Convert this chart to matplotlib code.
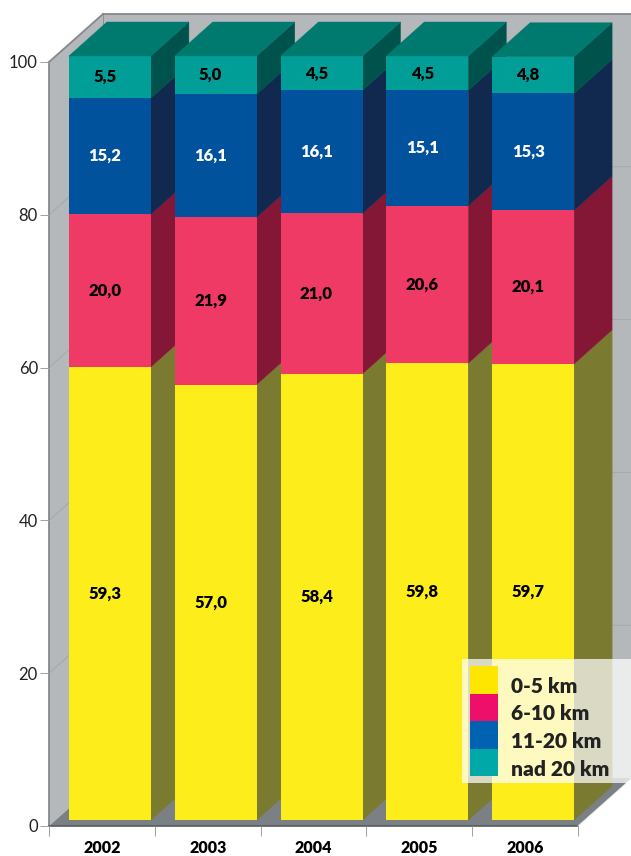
#!/usr/bin/env python3
"""Stacked pseudo-3D bars, commuting distance shares 2002-2006."""

import matplotlib
matplotlib.use('Agg')
import matplotlib.pyplot as plt
from matplotlib.patches import Polygon, Rectangle
import numpy as np

plt.rcParams['font.family'] = ['Lato', 'DejaVu Sans']

years = ['2002', '2003', '2004', '2005', '2006']
km_0_5 = [59.3, 57.0, 58.4, 59.8, 59.7]
km_6_10 = [20.0, 21.9, 21.0, 20.6, 20.1]
km_11_20 = [15.2, 16.1, 16.1, 15.1, 15.3]
km_over_20 = [5.5, 5.0, 4.5, 4.5, 4.8]
legend_labels = ['0-5 km', '6-10 km', '11-20 km', 'nad 20 km']

series = [km_0_5, km_6_10, km_11_20, km_over_20]
front_cols = ['#fdee1b', '#f03a66', '#00529c', '#009e96']
side_cols = ['#7a7a30', '#851736', '#12294f', '#00524c']
label_cols = ['black', 'black', 'white', 'black']
top_col = '#007a6e'
legend_cols = ['#ffe600', '#ee0f6a', '#0062b0', '#00a9a8']

W, H = 631, 856
fig = plt.figure(figsize=(W / 100, H / 100), dpi=100)

# axes box is the front plane of the chart
ax = fig.add_axes([49 / W, 1 - 826 / H, 529 / W, 764 / H])
ax.set_xlim(-0.5, 4.5)
ax.set_ylim(0, 100)
ax.patch.set_visible(False)
px_x = 5 / 529
px_y = 100 / 764

# ── Walls and floor ──
wall_dx, wall_dy = 54 * px_x, 48 * px_y
wall_col = '#b5b8bb'
x0, x1 = -0.5, 4.5
ax.add_patch(Polygon([(x0, 0), (x0 + wall_dx, wall_dy), (x0 + wall_dx, 100 + wall_dy), (x0, 100)],
                     fc=wall_col, ec='none', clip_on=False, zorder=0))
ax.add_patch(Polygon([(x0 + wall_dx, wall_dy), (x1 + wall_dx, wall_dy), (x1 + wall_dx, 100 + wall_dy),
                      (x0 + wall_dx, 100 + wall_dy)], fc=wall_col, ec='none', clip_on=False, zorder=0))
ax.add_patch(Polygon([(x0, 0), (x1, 0), (x1 + wall_dx, wall_dy), (x0 + wall_dx, wall_dy)],
                     fc='#7a8083', ec='none', clip_on=False, zorder=0))

# grid lines on the walls
for v in [20, 40, 60, 80]:
    ax.plot([x0, x0 + wall_dx, x1 + wall_dx], [v, v + wall_dy, v + wall_dy],
            color='#a3a6a9', lw=0.6, clip_on=False, zorder=0.5)

# darker outline edges
edge = '#85898c'
ax.plot([x0 + wall_dx, x1 + wall_dx], [100 + wall_dy] * 2, color=edge, lw=1.3, clip_on=False, zorder=0.5)
ax.plot([x0, x0 + wall_dx], [100, 100 + wall_dy], color=edge, lw=1.3, clip_on=False, zorder=0.5)
ax.plot([x0 + wall_dx] * 2, [wall_dy, 100 + wall_dy], color=edge, lw=0.6, clip_on=False, zorder=0.5)
ax.plot([x0, x0], [0, 100], color=edge, lw=1.3, clip_on=False, zorder=0.5)
ax.plot([x0, x1], [0, 0], color='#565b5d', lw=1.2, clip_on=False, zorder=0.5)
ax.plot([x1, x1 + wall_dx], [0, wall_dy], color='#e8e8e8', lw=0.6, clip_on=False, zorder=0.5)

# ── Bars, drawn left to right so the next bar covers the side face ──
bar_w = 82 * px_x
bar_shift = 8 * px_x
base = 6 * px_y
dep_x, dep_y = 38 * px_x, 34 * px_y
text_shift = -5 * px_x

for i, year in enumerate(years):
    xl = i + bar_shift - bar_w / 2
    xr = xl + bar_w
    bottom = base
    for vals, fc, sc, tc in zip(series, front_cols, side_cols, label_cols):
        top = bottom + vals[i]
        ax.add_patch(Polygon([(xr, bottom), (xr + dep_x, bottom + dep_y), (xr + dep_x, top + dep_y), (xr, top)],
                             fc=sc, ec=sc, lw=0.3, clip_on=False))
        ax.add_patch(Rectangle((xl, bottom), bar_w, vals[i], fc=fc, ec='none', clip_on=False))
        ax.text(i + bar_shift + text_shift, (bottom + top) / 2, f'{vals[i]:.1f}'.replace('.', ','),
                ha='center', va='center', fontsize=12, fontweight='heavy', color=tc, zorder=5)
        bottom = top
    ax.add_patch(Polygon([(xl, bottom), (xr, bottom), (xr + dep_x, bottom + dep_y), (xl + dep_x, bottom + dep_y)],
                         fc=top_col, ec=top_col, lw=0.3, clip_on=False))

# ── Axes furniture ──
for sp in ax.spines.values():
    sp.set_visible(False)
ax.set_yticks(np.arange(0, 101, 20))
ax.tick_params(axis='y', length=6.5, width=0.7, color='#a0a0a0', labelsize=12, pad=1.5, labelcolor='#222222')
ax.set_xticks(np.arange(-0.5, 5, 1))
ax.set_xticklabels([])
ax.tick_params(axis='x', length=7, width=0.7, color='#a0a0a0')
ax.set_xticks(np.arange(5), labels=years, minor=True)
ax.tick_params(axis='x', which='minor', length=0, labelsize=11.5, pad=10, labelcolor='black')
for lab in ax.get_xticklabels(minor=True):
    lab.set_fontweight('heavy')

# ── Legend, placed in pixel coordinates of the figure ──
leg = fig.add_axes([0, 0, 1, 1])
leg.set_xlim(0, W)
leg.set_ylim(H, 0)
leg.axis('off')
leg.add_patch(Rectangle((462, 659), 169, 124, fc='white', ec='none', alpha=0.72))
for k, (lab, c) in enumerate(zip(legend_labels, legend_cols)):
    y = 666 + k * 27.5
    leg.add_patch(Rectangle((470, y), 28, 27.5, fc=c, ec='none'))
    leg.text(511, y + 20.5, lab, ha='left', va='center', fontsize=15, fontweight='heavy', color='#222222')

fig.savefig('out.png', dpi=100, facecolor='white')
plt.close()
